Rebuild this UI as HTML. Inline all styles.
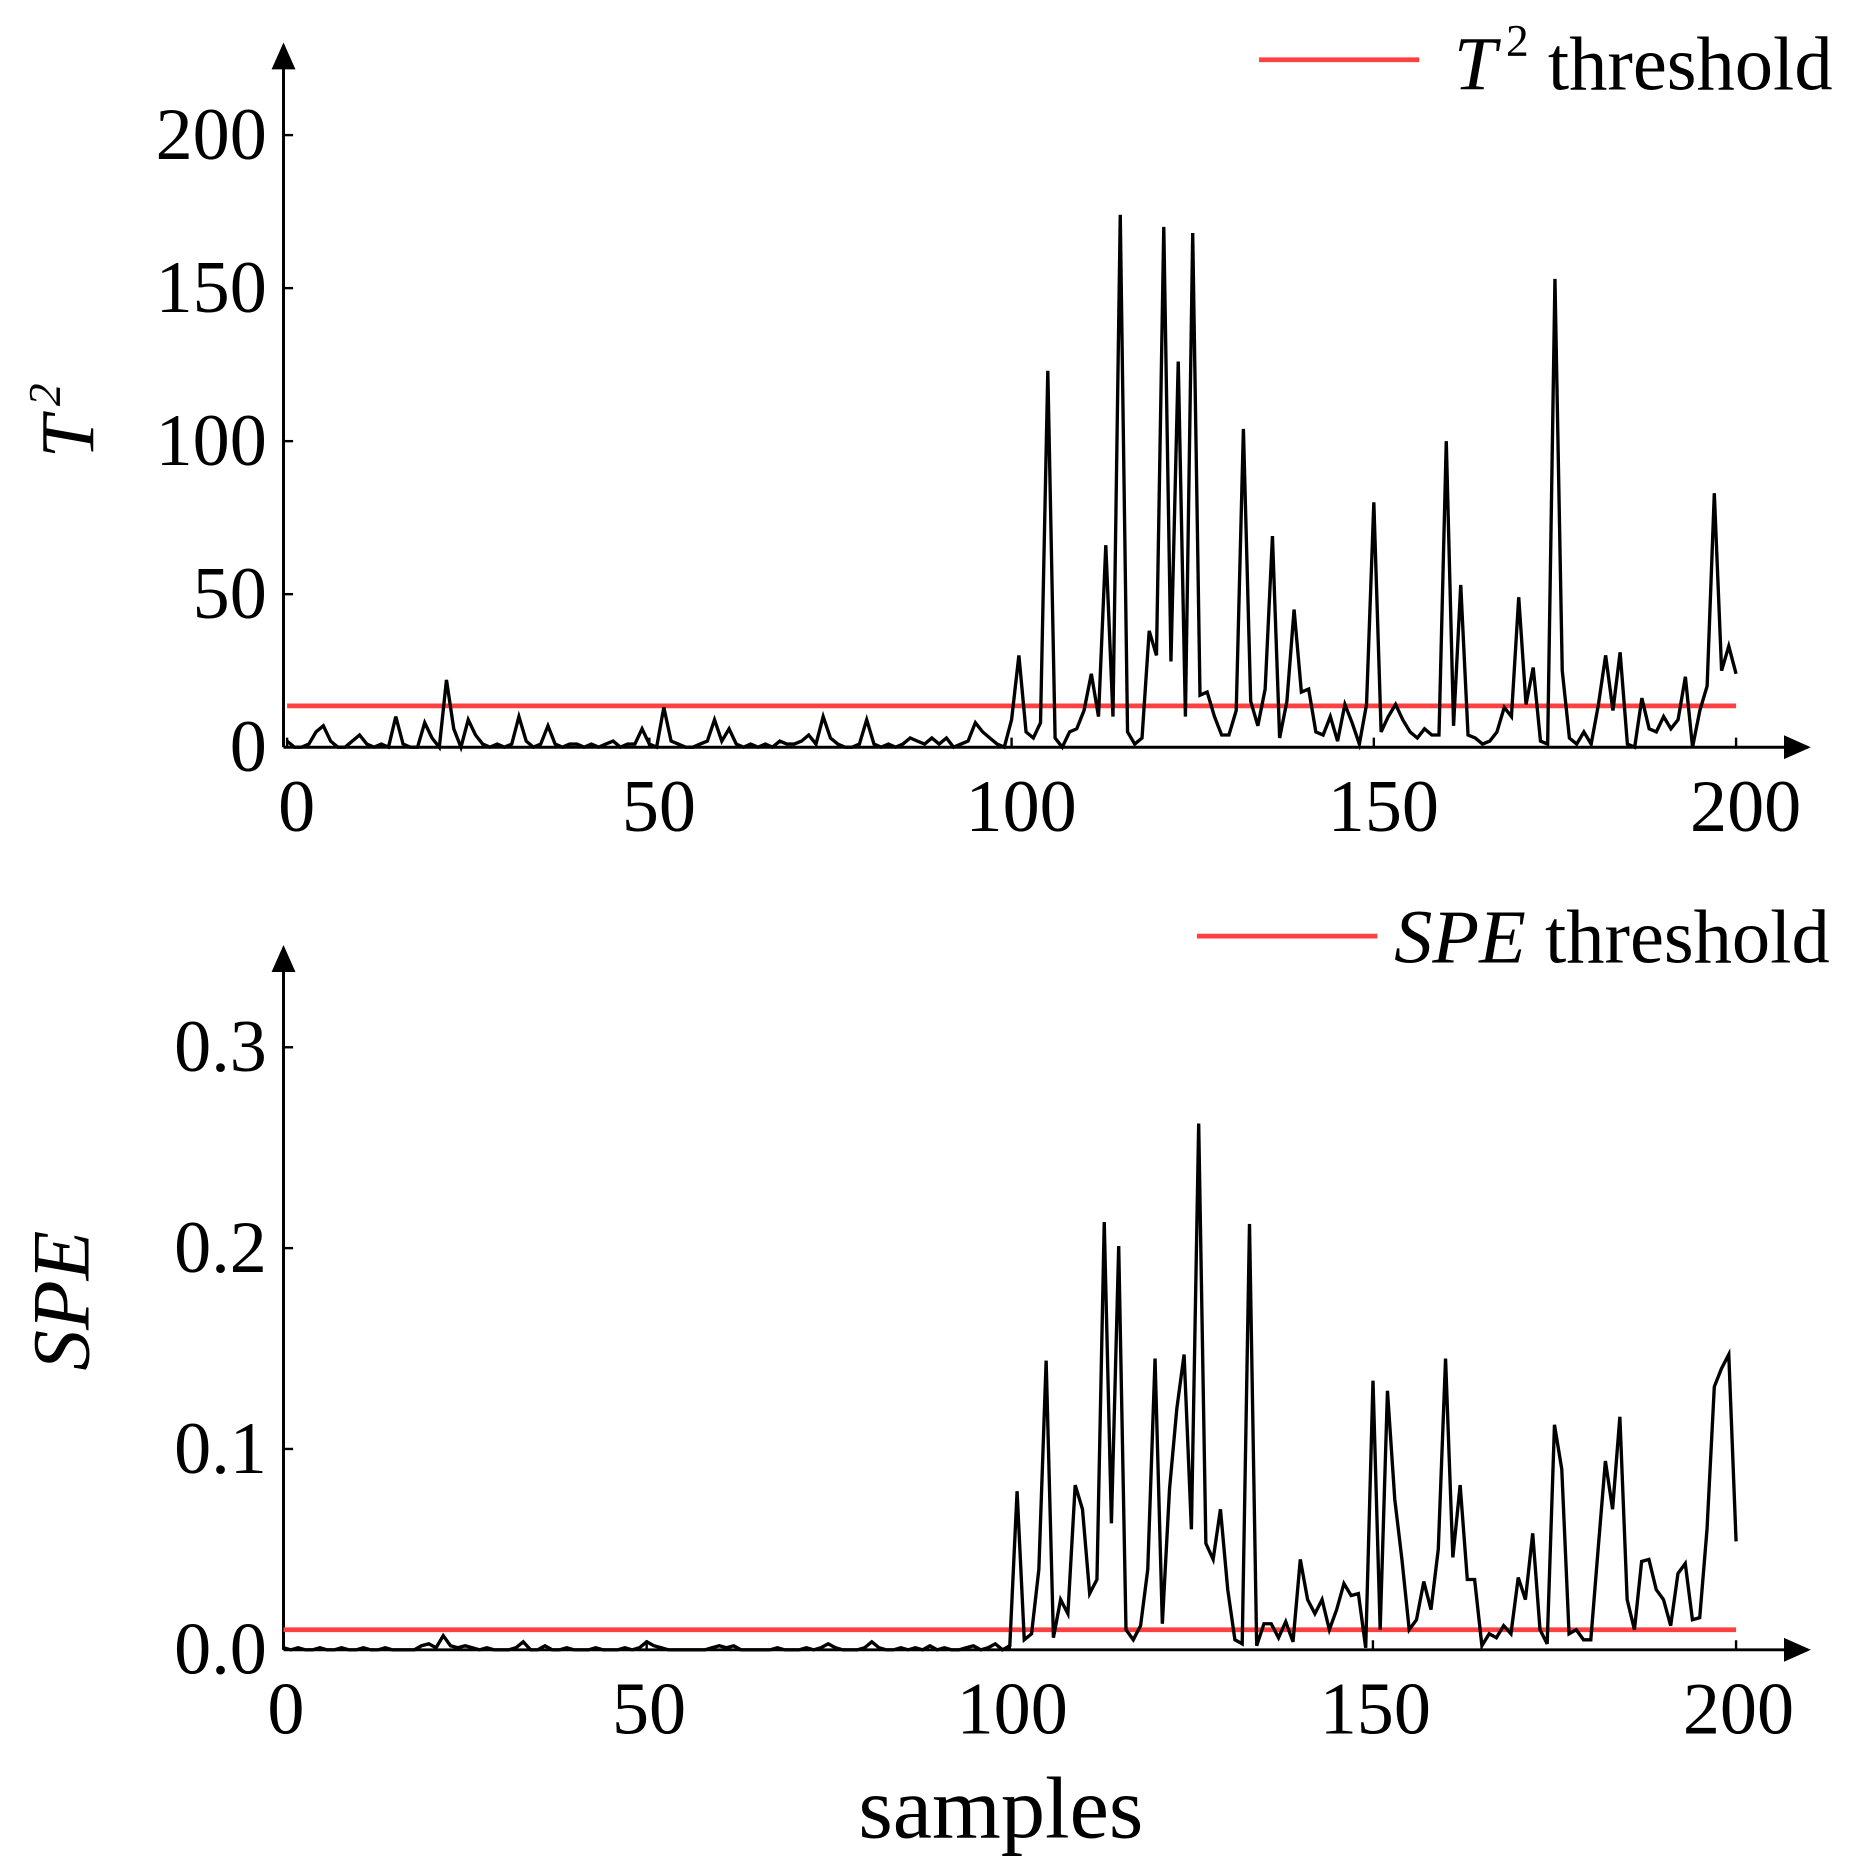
<!DOCTYPE html>
<html><head><meta charset="utf-8"><style>html,body{margin:0;padding:0;background:#fff}svg{display:block}</style></head>
<body>
<svg id="chart" width="1857" height="1865" viewBox="0 0 1553 1560" xmlns="http://www.w3.org/2000/svg" font-family="'Liberation Serif', serif">
<defs><marker id="arr" markerWidth="10" markerHeight="10" refX="8" refY="5" orient="auto"><path d="M0,1 L9,5 L0,9 Z" fill="#000"/></marker></defs>
<g id="top"></g>
<g id="bot"></g>
<text transform="translate(78,352) rotate(-90)" text-anchor="middle" font-size="64" font-style="italic">T<tspan font-size="38" dy="-28" dx="8">2</tspan></text>
<text transform="translate(74,1088) rotate(-90)" text-anchor="middle" font-size="68" font-style="italic">SPE</text>
<text x="837" y="1537" text-anchor="middle" font-size="74">samples</text>
<line x1="1053" y1="50" x2="1187" y2="50" stroke="#ff4040" stroke-width="4"/>
<text x="1216" y="75" font-size="64"><tspan font-style="italic">T</tspan><tspan font-size="38" dy="-28" dx="8">2</tspan><tspan dy="28"> threshold</tspan></text>
<line x1="1001" y1="783" x2="1152" y2="783" stroke="#ff4040" stroke-width="4"/>
<text x="1166" y="805" font-size="64"><tspan font-style="italic">SPE</tspan> threshold</text>
</svg>
<script>
const t2Values=[2,0,0,1,5,7,2,0,0,2,
4,1,0,1,0,10,1,0,0,8,
3,0,22,6,0,9,4,1,0,1,
0,1,10,2,0,1,7,1,0,1,
1,0,1,0,1,2,0,1,1,6,
1,0,13,2,1,0,0,1,2,9,
2,6,1,0,1,0,1,0,2,1,
1,2,4,1,10,3,1,0,0,1,
9,1,0,1,0,1,3,2,1,3,
1,3,0,1,2,8,5,3,1,0,
9,30,5,3,8,123,3,0,5,6,
12,24,10,66,10,174,5,1,3,38,
30,170,28,126,10,168,17,18,10,4,
4,12,104,15,7,19,69,3,15,45,
18,19,5,4,10,2,14,8,1,14,
80,5,10,14,9,5,3,6,4,4,
100,7,53,4,3,1,2,5,13,10,
49,14,26,2,1,153,25,3,1,5,
1,14,30,12,31,1,0,16,6,5,
10,6,9,23,0,12,20,83,25,33,
24];
const speValues=[0.001,0,0.001,0,0,0.001,0,0,0.001,0,
0,0.001,0,0,0.001,0,0,0,0,0.002,
0.003,0.001,0.007,0.002,0.001,0.002,0.001,0,0.001,0,
0,0,0.001,0.004,0,0,0.002,0,0,0.001,
0,0,0,0.001,0,0,0,0.001,0,0.001,
0.004,0.002,0.001,0,0,0,0,0,0,0.001,
0.002,0.001,0.002,0,0,0,0,0,0.001,0,
0,0,0.001,0,0.001,0.003,0.001,0,0,0,
0.001,0.004,0.001,0,0,0.001,0,0.001,0,0.002,
0,0.001,0,0,0.001,0.002,0,0.001,0.003,0,
0.002,0.079,0.005,0.008,0.04,0.144,0.006,0.025,0.018,0.082,
0.07,0.028,0.035,0.213,0.063,0.201,0.01,0.005,0.012,0.04,
0.145,0.013,0.08,0.12,0.147,0.06,0.262,0.053,0.045,0.07,
0.03,0.005,0.003,0.212,0.002,0.013,0.013,0.006,0.014,0.004,
0.045,0.025,0.018,0.025,0.01,0.02,0.033,0.027,0.028,0.001,
0.134,0.01,0.129,0.075,0.045,0.01,0.015,0.034,0.02,0.05,
0.145,0.046,0.082,0.035,0.035,0.002,0.008,0.006,0.012,0.008,
0.036,0.025,0.058,0.01,0.003,0.112,0.09,0.008,0.01,0.005,
0.005,0.05,0.094,0.07,0.116,0.025,0.01,0.044,0.045,0.03,
0.025,0.012,0.038,0.043,0.015,0.016,0.06,0.131,0.14,0.147,
0.054];
const xTicks=[0,50,100,150,200];
const t2Ticks=[0,50,100,150,200];
const t2TickLabels=["0","50","100","150","200"];
const speTicks=[0,0.1,0.2,0.3];
const speTickLabels=["0.0","0.1","0.2","0.3"];
const t2Threshold=13.5;
const speThreshold=0.01;

const NS="http://www.w3.org/2000/svg";
function mk(parent,tag,attrs,txt){const e=document.createElementNS(NS,tag);for(const k in attrs)e.setAttribute(k,attrs[k]);if(txt!==undefined)e.textContent=txt;parent.appendChild(e);return e;}

function panel(g,cfg){
  const x=i=>cfg.x0+i*(cfg.x1-cfg.x0)/200;
  const y=v=>cfg.y0-v*(cfg.y0-cfg.yTop)/cfg.yMax;
  const ya=mk(g,'line',{x1:cfg.ax,y1:cfg.y0,x2:cfg.ax,y2:cfg.arrowTop,stroke:'#000','stroke-width':2.5,'marker-end':'url(#arr)'});
  
  
  const xa=mk(g,'line',{x1:cfg.ax,y1:cfg.y0,x2:1512,y2:cfg.y0,stroke:'#000','stroke-width':2.5,'marker-end':'url(#arr)'});
  
  
  cfg.yTicks.forEach((v,k)=>{
    const t=mk(g,'line',{x1:cfg.ax,y1:y(v),x2:cfg.ax+8,y2:y(v),stroke:'#000','stroke-width':2});
    
    
    const l=mk(g,'text',{x:cfg.ax-14,y:y(v)+20,'text-anchor':'end','font-size':62},cfg.yLabels[k]);
    
    
  });
  xTicks.forEach(v=>{
    const t=mk(g,'line',{x1:x(v),y1:cfg.y0,x2:x(v),y2:cfg.y0-8,stroke:'#000','stroke-width':2});
    
    
    const l=mk(g,'text',{x:x(v)+cfg.lblOff,y:cfg.y0+70,'text-anchor':'middle','font-size':62},String(v));
    
    
  });
  const th=mk(g,'line',{x1:cfg.x0,y1:y(cfg.th),x2:cfg.x1,y2:y(cfg.th),stroke:'#ff4040','stroke-width':4});
  
  
  const pts=cfg.data.map((v,i)=>x(i).toFixed(1)+','+y(v).toFixed(1)).join(' ');
  const pl=mk(g,'polyline',{points:pts,fill:'none',stroke:'#000','stroke-width':2.8,'stroke-linejoin':'miter'});
  
  
}
panel(document.getElementById('top'),{name:'t2',x0:240,x1:1452,ax:237,y0:625,yTop:113,yMax:200,arrowTop:38,yTicks:t2Ticks,yLabels:t2TickLabels,th:t2Threshold,data:t2Values,lblOff:8});
panel(document.getElementById('bot'),{name:'spe',x0:237,x1:1452,ax:237,y0:1380,yTop:876,yMax:0.3,arrowTop:793,yTicks:speTicks,yLabels:speTickLabels,th:speThreshold,data:speValues,lblOff:2});
</script>
</body></html>
